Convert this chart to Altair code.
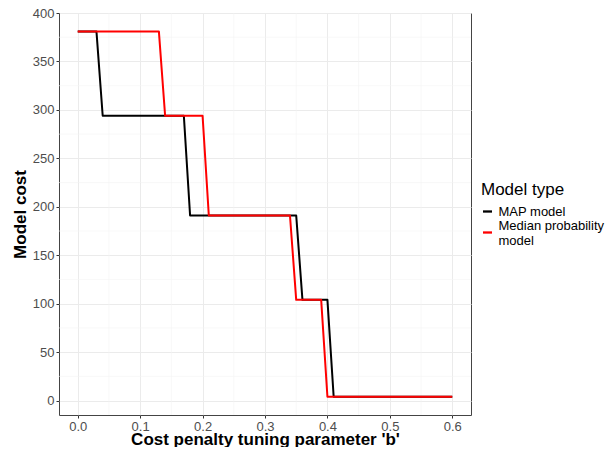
import altair as alt
import pandas as pd

# --- data ---
series = ["MAP model", "Median probability model"]
b_map = [0.00, 0.03, 0.04, 0.17, 0.18, 0.35, 0.36, 0.40, 0.41, 0.60]
cost_map = [381, 381, 294, 294, 191, 191, 104, 104, 4, 4]
b_med = [0.00, 0.13, 0.14, 0.20, 0.21, 0.34, 0.35, 0.39, 0.40, 0.60]
cost_med = [381, 381, 294, 294, 191, 191, 104, 104, 4, 4]

x_major = [0.0, 0.1, 0.2, 0.3, 0.4, 0.5, 0.6]
x_minor = [0.05, 0.15, 0.25, 0.35, 0.45, 0.55]
y_major = [0, 50, 100, 150, 200, 250, 300, 350, 400]
y_minor = [25, 75, 125, 175, 225, 275, 325, 375]

rows = []
for name, bs, cs in [(series[0], b_map, cost_map), (series[1], b_med, cost_med)]:
    for i, (b, c) in enumerate(zip(bs, cs)):
        rows.append({"b": b, "cost": c, "type": name, "ord": i})
df = pd.DataFrame(rows)

xscale = alt.Scale(domain=[-0.03, 0.63], nice=False, zero=False)
yscale = alt.Scale(domain=[-14.85, 400], nice=False, zero=False)

minor_color = "#F3F3F3"
major_color = "#EBEBEB"

xaxis = alt.Axis(
    values=x_major,
    format=".1f",
    title="Cost penalty tuning parameter 'b'",
    grid=True,
    gridColor=major_color,
    gridWidth=1,
    domain=False,
    tickColor="#333333",
    tickSize=3,
    labelPadding=2,
    labelFontSize=13,
    labelColor="#4D4D4D",
    titleFontSize=17,
    titleFontWeight="bold",
    titleColor="#000000",
    titleBaseline="alphabetic",
    titleY=29,
)
yaxis = alt.Axis(
    values=y_major,
    title="Model cost",
    grid=True,
    gridColor=major_color,
    gridWidth=1,
    domain=False,
    tickColor="#333333",
    tickSize=3,
    labelPadding=2,
    labelFontSize=13,
    labelColor="#4D4D4D",
    titleFontSize=17,
    titleFontWeight="bold",
    titleColor="#000000",
    titleBaseline="alphabetic",
    titleX=-34,
)

vminor = alt.Chart(pd.DataFrame({"b": x_minor})).mark_rule(
    color=minor_color, strokeWidth=0.6
).encode(x=alt.X("b:Q", scale=xscale, axis=xaxis))

hminor = alt.Chart(pd.DataFrame({"cost": y_minor})).mark_rule(
    color=minor_color, strokeWidth=0.6
).encode(y=alt.Y("cost:Q", scale=yscale, axis=yaxis))

lines = alt.Chart(df).mark_line(strokeWidth=2, strokeCap="butt", strokeJoin="round").encode(
    x=alt.X("b:Q", scale=xscale, axis=xaxis),
    y=alt.Y("cost:Q", scale=yscale, axis=yaxis),
    color=alt.Color(
        "type:N",
        scale=alt.Scale(domain=series, range=["#000000", "#FF0000"]),
        legend=alt.Legend(
            title="Model type",
            orient="none",
            legendX=422,
            legendY=169,
            titleFontSize=17,
            titleFontWeight="normal",
            titleColor="#000000",
            titlePadding=6,
            labelFontSize=13,
            labelColor="#000000",
            labelOffset=4.5,
            labelLimit=200,
            labelBaseline={"expr": "datum.value == 'Median probability model' ? 'bottom' : 'middle'"},
            symbolType="stroke",
            symbolSize=81,
            symbolStrokeWidth=2.3,
            rowPadding=0,
            padding=0,
            labelExpr="datum.label == 'Median probability model' ? ['Median probability', '\u00a0model'] : datum.label",
        ),
    ),
    order="ord:Q",
)

chart = alt.layer(vminor, hminor, lines).properties(
    width=412,
    height=402,
    autosize=alt.AutoSizeParams(type="none"),
    padding={"left": 51, "top": 5, "right": 137, "bottom": 32},
).configure(
    font="Liberation Sans",
).configure_view(
    stroke="#444444",
    strokeWidth=1,
)

chart.save("out.html", embed_options={"renderer": "svg", "actions": False})
